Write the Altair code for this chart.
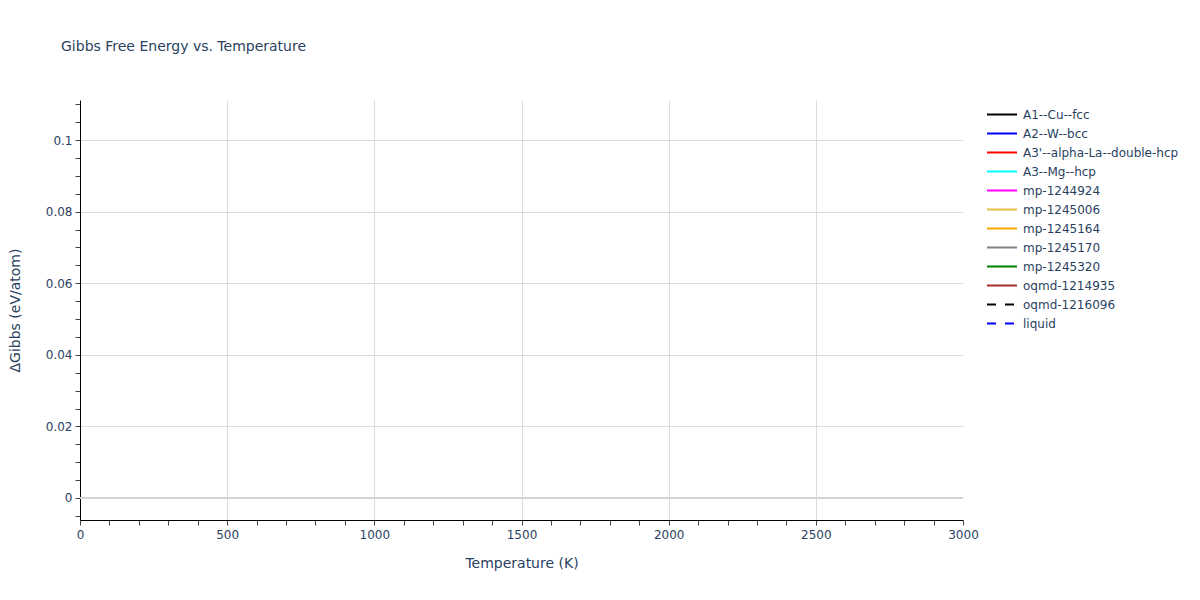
import altair as alt
import pandas as pd

# Series shown in the legend (no visible curve data in the reference)
series = ["A1--Cu--fcc", "A2--W--bcc", "A3'--alpha-La--double-hcp", "A3--Mg--hcp",
          "mp-1244924", "mp-1245006", "mp-1245164", "mp-1245170", "mp-1245320",
          "oqmd-1214935", "oqmd-1216096", "liquid"]
colors = ["#000000", "#0000ff", "#ff0000", "#00ffff", "#ff00ff", "#e3bf45",
          "#ffa500", "#808080", "#008000", "#a52a2a", "#000000", "#0000ff"]
dashes = [[1, 0]] * 10 + [[9, 9], [9, 9]]

# Curve values (none visible in the reference -> empty / null)
temperature = [None] * len(series)
gibbs = [None] * len(series)

x_ticks = list(range(0, 3001, 100))
y_ticks = [round(-0.005 + 0.005 * i, 3) for i in range(24)]

df = pd.DataFrame({"series": series, "T": temperature, "G": gibbs})
zero_df = pd.DataFrame({"G": [0.0]})

FONT = "DejaVu Sans"
TXT = "#2a3f5f"

x_axis = alt.Axis(
    values=x_ticks,
    labelExpr="datum.value % 500 === 0 ? format(datum.value, 'd') : ''",
    gridOpacity={"condition": {"test": "datum.value % 500 === 0 && datum.value > 0 && datum.value < 3000", "value": 1}, "value": 0},
    gridColor="#dcdcdc",
    domainColor="#000000",
    tickColor="#444444",
    tickSize=5,
    labelPadding=4,
    labelFlush=False,
    labelOverlap=False,
    labelFontSize=12,
    labelColor=TXT,
    labelFont=FONT,
    title="Temperature (K)",
    titleFontSize=14,
    titleFontWeight="normal",
    titleColor=TXT,
    titleFont=FONT,
    titlePadding=16,
)

y_axis = alt.Axis(
    values=y_ticks,
    labelExpr="round(datum.value * 1000) % 20 === 0 ? format(datum.value, '~g') : ''",
    gridOpacity={"condition": {"test": "round(datum.value * 1000) % 20 === 0 && datum.value > 0.001", "value": 1}, "value": 0},
    gridColor="#dcdcdc",
    tickSize=5,
    domainColor="#000000",
    tickColor="#444444",
    labelPadding=3,
    labelFlush=False,
    labelOverlap=False,
    labelFontSize=12,
    labelColor=TXT,
    labelFont=FONT,
    title="ΔGibbs (eV/atom)",
    titleFontSize=14,
    titleFontWeight="normal",
    titleColor=TXT,
    titleFont=FONT,
    titlePadding=23,
)

x_enc = alt.X("T:Q", scale=alt.Scale(domain=[0, 3000], nice=False, zero=False), axis=x_axis)
y_enc = alt.Y("G:Q", scale=alt.Scale(domain=[-0.00615, 0.1112], nice=False, zero=False), axis=y_axis)

legend_kw = dict(title=None, orient="none", legendX=906, legendY=7,
                 symbolType="stroke", symbolSize=900, symbolStrokeWidth=2,
                 clipHeight=15, rowPadding=4, labelFontSize=12,
                 labelColor=TXT, labelFont=FONT, labelOffset=5, labelLimit=300)

lines = alt.Chart(df).mark_line(strokeWidth=2).encode(
    x=x_enc,
    y=y_enc,
    color=alt.Color("series:N", scale=alt.Scale(domain=series, range=colors),
                    legend=alt.Legend(**legend_kw)),
    strokeDash=alt.StrokeDash("series:N", scale=alt.Scale(domain=series, range=dashes),
                              legend=alt.Legend(**legend_kw)),
)

zero = alt.Chart(zero_df).mark_rule(color="#d4d4d4", strokeWidth=2).encode(
    y=y_enc
)

chart = alt.layer(zero, lines).properties(
    width=883,
    height=420,
    title=alt.TitleParams("Gibbs Free Energy vs. Temperature", anchor="start", frame="group",
                          dx=-19, offset=33, baseline="alphabetic", fontSize=14,
                          fontWeight="normal", color=TXT, font=FONT),
    autosize=alt.AutoSizeParams(type="none"),
    padding={"left": 72, "top": 92, "right": 229, "bottom": 72},
).configure_view(stroke="transparent")

chart.save("out.html", embed_options={"renderer": "svg", "actions": False})
